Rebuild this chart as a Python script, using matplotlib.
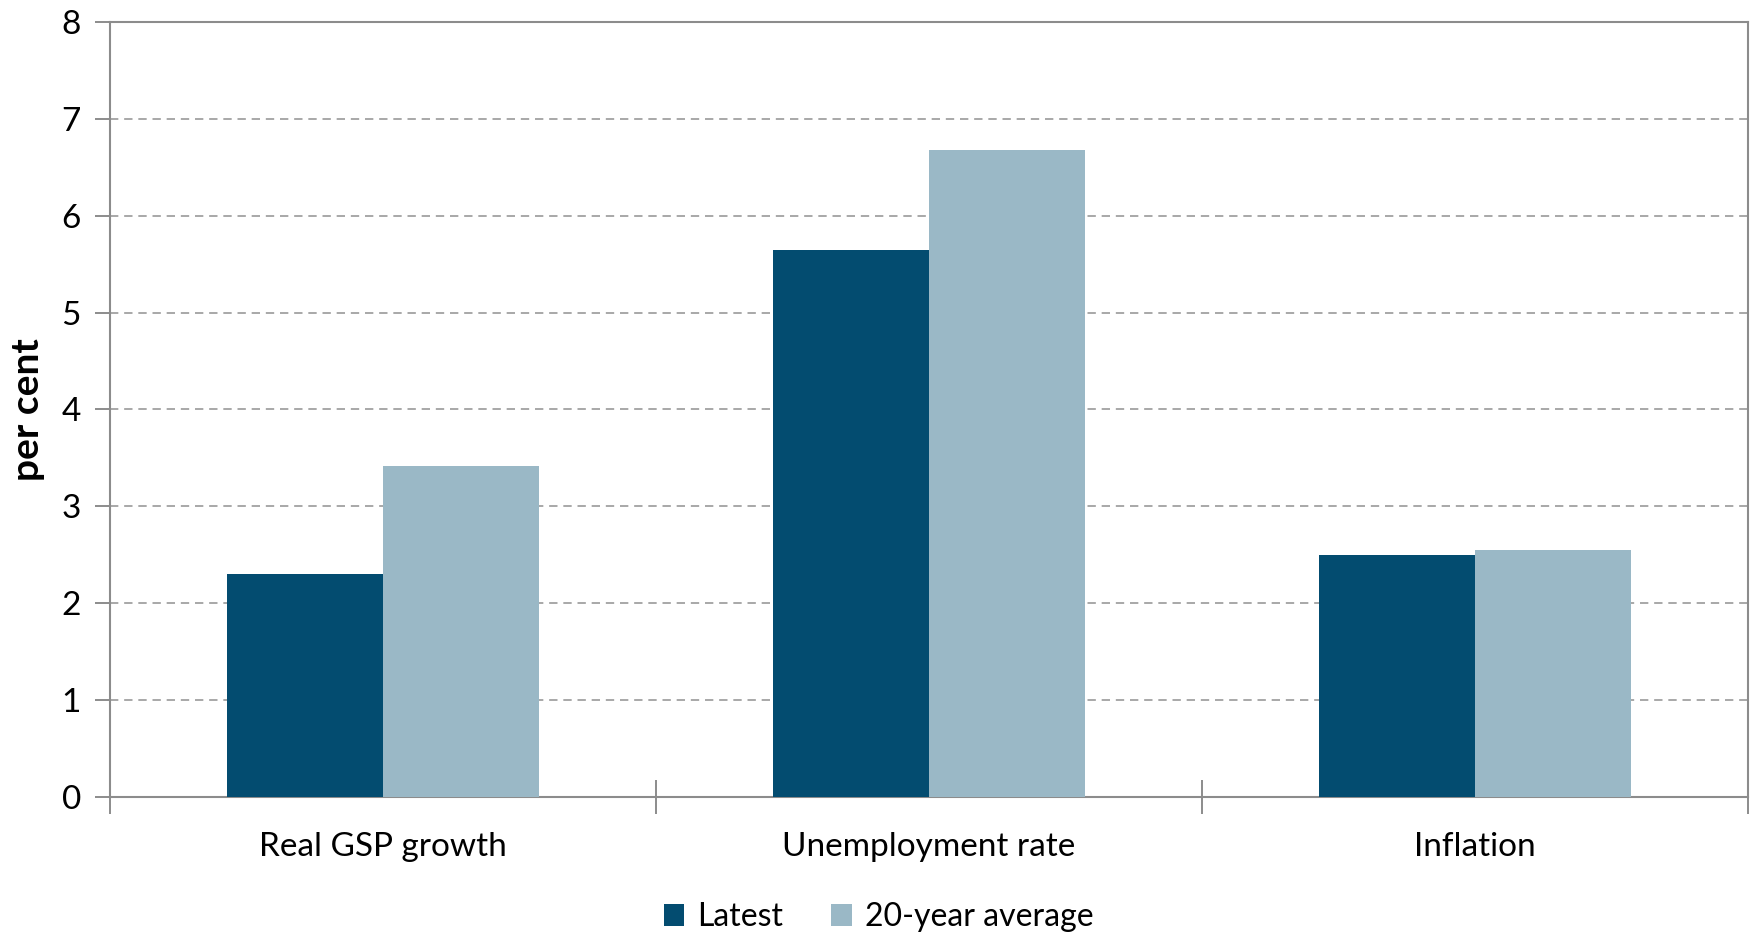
"""Latest vs 20-year average economic indicators."""
import matplotlib
matplotlib.use('Agg')
import matplotlib.pyplot as plt
import numpy as np

plt.rcParams['font.family'] = ['Lato', 'DejaVu Sans']

categories = ['Real GSP growth', 'Unemployment rate', 'Inflation']
latest = [2.3, 5.65, 2.5]
avg_20yr = [3.42, 6.68, 2.55]
series_names = ['Latest', '20-year average']

dark = '#034C70'
light = '#9AB8C6'
axis_gray = '#8C8C8C'

fig = plt.figure(figsize=(17.57, 9.33), dpi=100)
ax = fig.add_axes([0.0626, 0.1458, 0.9323, 0.8306])

x = np.arange(len(categories))
w = 0.285
ax.bar(x - w / 2, latest, width=w, color=dark, label=series_names[0], zorder=3)
ax.bar(x + w / 2, avg_20yr, width=w, color=light, label=series_names[1], zorder=3)

ax.set_xlim(-0.5, len(categories) - 0.5)
ax.set_ylim(0, 8)
ax.set_yticks(range(0, 9))

# category labels centred, ticks on the boundaries
ax.set_xticks(x)
ax.set_xticklabels(categories, fontsize=24)
ax.tick_params(axis='x', which='major', length=0, pad=25)
ax.set_xticks(np.arange(-0.5, len(categories)), minor=True)
ax.tick_params(axis='x', which='minor', direction='inout', length=24,
               width=1.4, color=axis_gray)

ax.tick_params(axis='y', direction='out', length=11, width=1.4,
               color=axis_gray, labelsize=24, pad=10)

for y in range(1, 8):
    ax.axhline(y, color='#999999', linewidth=1.2, linestyle=(0, (5, 3.5)), zorder=1)

for side in ['left', 'right', 'top', 'bottom']:
    ax.spines[side].set_color(axis_gray)
    ax.spines[side].set_linewidth(1.5)

ax.set_ylabel('per cent', fontsize=28, fontweight='bold', labelpad=12)

fig.legend(loc='lower center', bbox_to_anchor=(0.5, -0.03), ncol=2,
           frameon=False, fontsize=23, handlelength=0.65, handleheight=0.65,
           handletextpad=0.4, columnspacing=1.5)

plt.savefig('out.png', dpi=100)
plt.close()
